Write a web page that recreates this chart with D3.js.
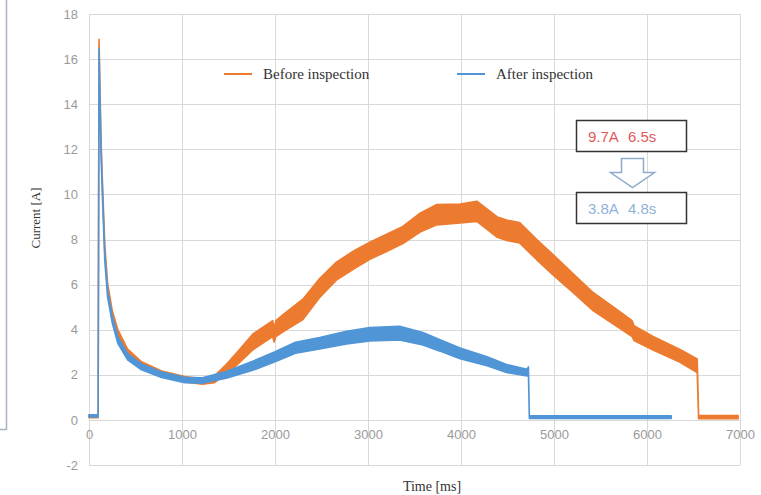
<!DOCTYPE html>
<html>
<head>
<meta charset="utf-8">
<script src="https://cdn.jsdelivr.net/npm/d3@7"></script>
<style>
  html, body { margin: 0; padding: 0; background: #fff; }
  svg { display: block; }
</style>
</head>
<body>
<svg id="chart" width="761" height="495"></svg>
<script>
// ---------- data ----------
const xTicks = [0, 1000, 2000, 3000, 4000, 5000, 6000, 7000];
const yTicks = [-2, 0, 2, 4, 6, 8, 10, 12, 14, 16, 18];

const seriesNames = ["Before inspection", "After inspection"];

// Before inspection: time [ms], mean current [A], half-width of noise band [A]
const beforeTime = [0, 98, 108, 116, 130, 150, 170, 200, 250, 310, 415, 565, 780, 1030, 1220, 1350, 1475, 1600, 1760, 1975, 1990, 2010, 2090, 2300, 2480, 2660, 2850, 3020, 3200, 3375, 3560, 3740, 3990, 4170, 4250, 4390, 4500, 4630, 4815, 5010, 5210, 5420, 5630, 5840, 5860, 6065, 6350, 6540, 6555, 6980];
const beforeCurrent = [0.15, 0.15, 16.8, 15.0, 12.2, 9.8, 7.6, 5.9, 4.7, 3.85, 3.0, 2.45, 2.05, 1.8, 1.7, 1.8, 2.25, 2.75, 3.45, 4.05, 3.75, 4.05, 4.3, 4.9, 5.85, 6.6, 7.1, 7.5, 7.85, 8.2, 8.75, 9.1, 9.15, 9.25, 9.0, 8.55, 8.4, 8.3, 7.55, 6.8, 6.05, 5.25, 4.65, 4.05, 3.85, 3.4, 2.85, 2.4, 0.12, 0.12];
const beforeSpread = [0.05, 0.05, 0.08, 0.1, 0.12, 0.14, 0.15, 0.15, 0.15, 0.15, 0.14, 0.13, 0.12, 0.12, 0.12, 0.15, 0.2, 0.28, 0.35, 0.35, 0.3, 0.35, 0.38, 0.45, 0.42, 0.4, 0.4, 0.38, 0.38, 0.38, 0.42, 0.45, 0.42, 0.45, 0.45, 0.45, 0.45, 0.45, 0.45, 0.45, 0.42, 0.4, 0.38, 0.35, 0.33, 0.3, 0.28, 0.3, 0.07, 0.07];

// After inspection
const afterTime = [0, 98, 108, 118, 130, 150, 170, 200, 250, 310, 415, 565, 780, 1030, 1220, 1475, 1760, 2000, 2220, 2480, 2770, 3020, 3340, 3590, 3775, 3990, 4280, 4490, 4710, 4725, 4735, 6260];
const afterCurrent = [0.18, 0.18, 16.4, 14.2, 11.8, 9.4, 7.2, 5.6, 4.45, 3.55, 2.8, 2.35, 2.0, 1.77, 1.75, 2.0, 2.4, 2.8, 3.2, 3.4, 3.65, 3.8, 3.85, 3.6, 3.3, 2.95, 2.6, 2.28, 2.1, 2.2, 0.12, 0.12];
const afterSpread = [0.05, 0.05, 0.08, 0.1, 0.12, 0.14, 0.15, 0.15, 0.15, 0.15, 0.14, 0.13, 0.12, 0.12, 0.12, 0.15, 0.2, 0.22, 0.24, 0.25, 0.28, 0.3, 0.3, 0.28, 0.25, 0.24, 0.2, 0.18, 0.15, 0.15, 0.06, 0.06];

const noteBefore = ["9.7A", "6.5s"];
const noteAfter = ["3.8A", "4.8s"];

// ---------- drawing ----------
const svg = d3.select("#chart");
const W = 761, H = 495;
const margin = { left: 89, right: 21, top: 14, bottom: 30 };
const x = d3.scaleLinear().domain([0, 7000]).range([margin.left, W - margin.right]);
const y = d3.scaleLinear().domain([-2, 18]).range([H - margin.bottom, margin.top]);

const colors = { before: "#ed7b2f", after: "#5096d7" };

// decorative frame fragment at the far left
svg.append("path")
  .attr("d", "M0,429.5H6.5V0")
  .attr("fill", "none").attr("stroke", "#a9b3c6").attr("stroke-width", 1.5);

// gridlines
const grid = svg.append("g").attr("stroke", "#d9d9d9").attr("stroke-width", 1);
grid.selectAll("line.h").data(yTicks).join("line")
  .attr("class", "h")
  .attr("x1", x(0)).attr("x2", x(7000))
  .attr("y1", d => Math.round(y(d)) + 0.5).attr("y2", d => Math.round(y(d)) + 0.5);
grid.selectAll("line.v").data(xTicks).join("line")
  .attr("class", "v")
  .attr("y1", y(18)).attr("y2", y(-2))
  .attr("x1", d => Math.round(x(d)) + 0.5).attr("x2", d => Math.round(x(d)) + 0.5);

// Y tick labels via axis
const yAxis = d3.axisLeft(y).tickValues(yTicks).tickSize(0).tickPadding(11).tickFormat(d => String(d));
const gy = svg.append("g").attr("transform", `translate(${x(0)},0)`).call(yAxis);
gy.select(".domain").remove();
gy.selectAll("text").attr("fill", "#9a9a9a").style("font-family", "'Liberation Sans', Arial, sans-serif").style("font-size", "13px");

// X tick labels via axis, placed on the zero line
const xAxis = d3.axisBottom(x).tickValues(xTicks).tickSize(0).tickPadding(10).tickFormat(d => String(d));
const gx = svg.append("g").attr("transform", `translate(0,${y(0)})`).call(xAxis);
gx.select(".domain").remove();
gx.selectAll("text").attr("fill", "#9a9a9a").style("font-family", "'Liberation Sans', Arial, sans-serif").style("font-size", "13px");

// series bands
function band(times, cur, spr) {
  return times.map((t, i) => ({ t, lo: cur[i] - spr[i], hi: cur[i] + spr[i], v: cur[i] }));
}
const area = d3.area().x(d => x(d.t)).y0(d => y(d.lo)).y1(d => y(d.hi)).curve(d3.curveLinear);

const series = [
  { key: "before", data: band(beforeTime, beforeCurrent, beforeSpread) },
  { key: "after", data: band(afterTime, afterCurrent, afterSpread) }
];
series.forEach(s => {
  svg.append("path")
    .datum(s.data)
    .attr("d", area)
    .attr("fill", colors[s.key])
    .attr("stroke", colors[s.key])
    .attr("stroke-width", 1.6)
    .attr("stroke-linejoin", "round");
});

// legend
const serif = "'Liberation Serif', 'Times New Roman', serif";
const legend = svg.append("g");
const legendItems = [
  { name: seriesNames[0], key: "before", x: 224 },
  { name: seriesNames[1], key: "after", x: 457 }
];
legendItems.forEach(it => {
  legend.append("line").attr("x1", it.x).attr("x2", it.x + 28).attr("y1", 74).attr("y2", 74)
    .attr("stroke", colors[it.key]).attr("stroke-width", 2);
  legend.append("text").attr("x", it.x + 39).attr("y", 79)
    .text(it.name)
    .style("font-family", serif).style("font-size", "15px").attr("fill", "#333");
});

// axis titles
svg.append("text")
  .attr("transform", "translate(40,218) rotate(-90)")
  .attr("text-anchor", "middle")
  .style("font-family", serif).style("font-size", "13px").attr("fill", "#333")
  .text("Current  [A]");
svg.append("text")
  .attr("x", 432).attr("y", 491)
  .attr("text-anchor", "middle")
  .style("font-family", serif).style("font-size", "14px").attr("fill", "#333")
  .text("Time [ms]");

// annotation boxes
const sans = "'Liberation Sans', Arial, sans-serif";
function noteBox(y0, parts, color) {
  svg.append("rect").attr("x", 576.5).attr("y", y0 + 0.5).attr("width", 110).attr("height", 31)
    .attr("fill", "#fff").attr("stroke", "#333").attr("stroke-width", 1.5);
  svg.append("text").attr("x", 588).attr("y", y0 + 22)
    .style("font-family", sans).style("font-size", "15px").attr("fill", color)
    .text(parts[0]);
  svg.append("text").attr("x", 628).attr("y", y0 + 22)
    .style("font-family", sans).style("font-size", "15px").attr("fill", color)
    .text(parts[1]);
}
noteBox(120, noteBefore, "#e05a5a");
noteBox(192, noteAfter, "#8fb3d8");

// down arrow
svg.append("path")
  .attr("d", "M621.5,158.5H643.5V172.5H654.5L632.5,187.5L610.5,172.5H621.5Z")
  .attr("fill", "#fff").attr("stroke", "#8eabcb").attr("stroke-width", 1.5)
  .attr("stroke-linejoin", "miter");
</script>
</body>
</html>
